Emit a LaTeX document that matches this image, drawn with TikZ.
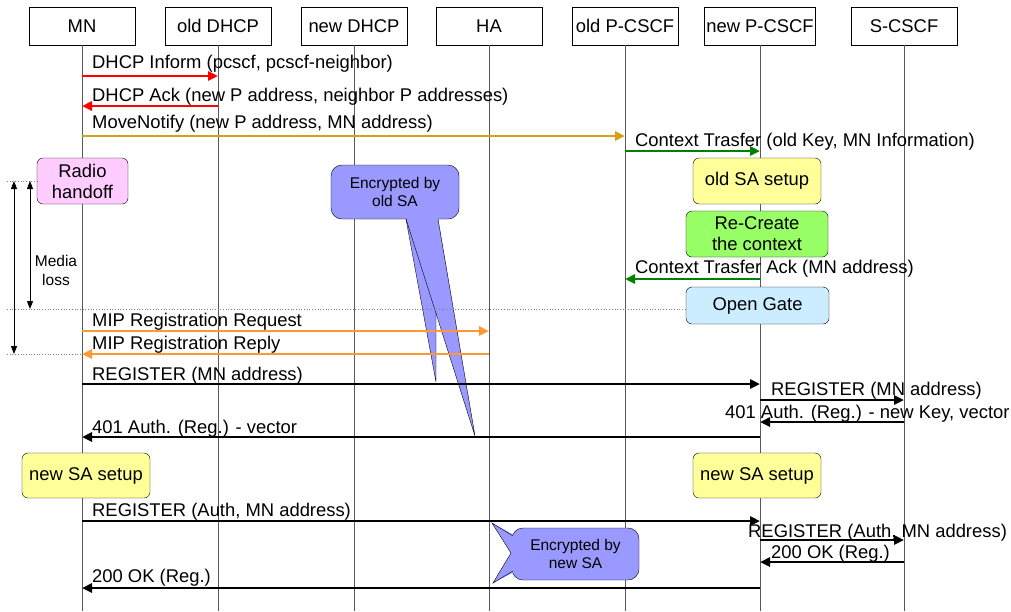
\documentclass[tikz,border=0pt]{standalone}
\usepackage{fontspec}
\setmainfont{Liberation Sans}
\usetikzlibrary{arrows.meta,positioning}

\definecolor{gold}{RGB}{212,160,23}
\definecolor{msgorange}{RGB}{255,153,51}
\definecolor{msggreen}{RGB}{0,128,0}
\definecolor{callblue}{RGB}{153,153,255}
\definecolor{pinkbox}{RGB}{255,204,255}
\definecolor{yellowbox}{RGB}{255,255,153}
\definecolor{greenbox}{RGB}{153,255,102}
\definecolor{bluebox}{RGB}{204,236,255}

\begin{document}
\begin{tikzpicture}[x=1pt, y=-1pt,
    entity/.style={rectangle, draw, fill=white, minimum width=106pt, minimum height=38pt, inner sep=1pt, font=\fontsize{18.4}{21}\selectfont},
    life/.style={black!65, line width=1pt},
    msg/.style={line width=2.6pt, -{Triangle[length=10pt,width=9pt]}},
    lbl/.style={anchor=base west, inner sep=0pt, font=\fontsize{18.4}{21}\selectfont},
    actbox/.style={rectangle, draw, rounded corners=6pt, align=center, inner sep=1pt, font=\fontsize{18.4}{21}\selectfont},
    bubble/.style={rectangle, draw, fill=callblue, rounded corners=11pt, align=center, inner sep=1pt, font=\fontsize{15.5}{18}\selectfont},
    guide/.style={black!50, dotted, line width=0.7pt},
    lossspan/.style={{Triangle[length=8pt,width=6pt]}-{Triangle[length=8pt,width=6pt]}, line width=1pt}
]
    \useasboundingbox (0,0) rectangle (1011,611);

    \node[entity] (mn) at (82,26) {MN};
    \node[entity] (odhcp) at (218,26) {old DHCP};
    \node[entity] (ndhcp) at (354,26) {new DHCP};
    \node[entity] (ha) at (489,26) {HA};
    \node[entity] (opcscf) at (625,26) {old P-CSCF};
    \node[entity, minimum width=111pt] (npcscf) at (760,26) {new P-CSCF};
    \node[entity] (scscf) at (904,26) {S-CSCF};

    \foreach \e in {mn,odhcp,ndhcp,ha,opcscf,npcscf,scscf}
        \draw[life] (\e.south) -- (\e |- 0,611);

    \node[bubble, minimum width=128pt, minimum height=54pt] (encold) at (395,192) {Encrypted by\\old SA};
    \fill[callblue] (406,218) -- (436,382) -- (436,313) -- (475,436) -- (438,218) -- cycle;
    \draw (406,219) -- (436,382) -- (436,313);
    \draw (406,219) -- (475,436) -- (438,219);

    \node[bubble, minimum width=127pt, minimum height=52pt] (encnew) at (575.5,554) {Encrypted by\\new SA};
    \fill[callblue] (514,535) -- (492,523) -- (511,553) -- (493,583) -- (514,572) -- cycle;
    \draw (513,536) -- (492,523) -- (511,553) -- (493,583) -- (513,571);

    \node[actbox, fill=pinkbox, minimum width=91pt, minimum height=46pt] (radio) at (82.5,181) {Radio\\handoff};
    \node[actbox, fill=yellowbox, minimum width=128pt, minimum height=46pt] (oldsa) at (757,181) {old SA setup};
    \node[actbox, fill=greenbox, minimum width=142pt, minimum height=46pt] (recreate) at (757,234) {Re-Create\\the context};
    \node[actbox, fill=bluebox, minimum width=143pt, minimum height=37pt] (gate) at (757.5,305.5) {Open Gate};
    \node[actbox, fill=yellowbox, minimum width=128pt, minimum height=45pt] (newsal) at (86,475.5) {new SA setup};
    \node[actbox, fill=yellowbox, minimum width=128pt, minimum height=45pt] (newsar) at (757,475.5) {new SA setup};

    \coordinate (g1) at (7,181);
    \coordinate (g2) at (7,309);
    \coordinate (g3) at (7,354);
    \draw[guide] (g1) -- (radio.west);
    \draw[guide] (g2) -- (gate.west |- g2);
    \draw[guide] (g3) -- (mn |- g3);
    \draw[lossspan] ([xshift=7pt]g1) -- ([xshift=7pt]g3);
    \draw[lossspan] ([xshift=23pt]g1) -- ([xshift=23pt]g2);
    \node[align=center, inner sep=0pt, font=\fontsize{15.5}{19}\selectfont] (loss) at (56,270) {Media\\loss};

    \draw[msg, red] (mn |- 0,76) -- (odhcp |- 0,76);
    \node[lbl] (m1) at (92,68) {DHCP Inform (pcscf, pcscf-neighbor)};
    \draw[msg, red] (odhcp |- 0,106) -- (mn |- 0,106);
    \node[lbl] (m2) at (92,101) {DHCP Ack (new P address, neighbor P addresses)};
    \draw[msg, gold] (mn |- 0,136) -- (opcscf |- 0,136);
    \node[lbl] (m3) at (92,128) {MoveNotify (new P address, MN address)};
    \draw[msg, msggreen] (opcscf |- 0,151) -- (npcscf |- 0,151);
    \node[lbl] (m4) at (635,146) {Context Trasfer (old Key, MN Information)};
    \draw[msg, msggreen] (npcscf |- 0,279) -- (opcscf |- 0,279);
    \node[lbl] (m5) at (635,273) {Context Trasfer Ack (MN address)};
    \draw[msg, msgorange] (mn |- 0,331) -- (ha |- 0,331);
    \node[lbl] (m6) at (92,326) {MIP Registration Request};
    \draw[msg, msgorange] (ha |- 0,354) -- (mn |- 0,354);
    \node[lbl] (m7) at (92,349) {MIP Registration Reply};
    \draw[msg] (mn |- 0,384) -- (npcscf |- 0,384);
    \node[lbl] (m8) at (92,380) {REGISTER (MN address)};
    \draw[msg] (npcscf |- 0,400) -- (scscf |- 0,400);
    \node[lbl] (m9) at (771,395) {REGISTER (MN address)};
    \draw[msg] (scscf |- 0,422) -- (npcscf |- 0,422);
    \node[lbl] (m10) at (725,418) {401 Auth. (Reg.) - new Key, vector};
    \draw[msg] (npcscf |- 0,437) -- (mn |- 0,437);
    \node[lbl] (m11) at (92,433) {401 Auth. (Reg.) - vector};
    \draw[msg] (mn |- 0,521) -- (npcscf |- 0,521);
    \node[lbl] (m12) at (92,516) {REGISTER (Auth, MN address)};
    \draw[msg] (npcscf |- 0,540) -- (scscf |- 0,540);
    \node[lbl] (m13) at (748,537) {REGISTER (Auth, MN address)};
    \draw[msg] (scscf |- 0,562) -- (npcscf |- 0,562);
    \node[lbl] (m14) at (771,558) {200 OK (Reg.)};
    \draw[msg] (npcscf |- 0,588) -- (mn |- 0,588);
    \node[lbl] (m15) at (92,582) {200 OK (Reg.)};
\end{tikzpicture}
\end{document}
